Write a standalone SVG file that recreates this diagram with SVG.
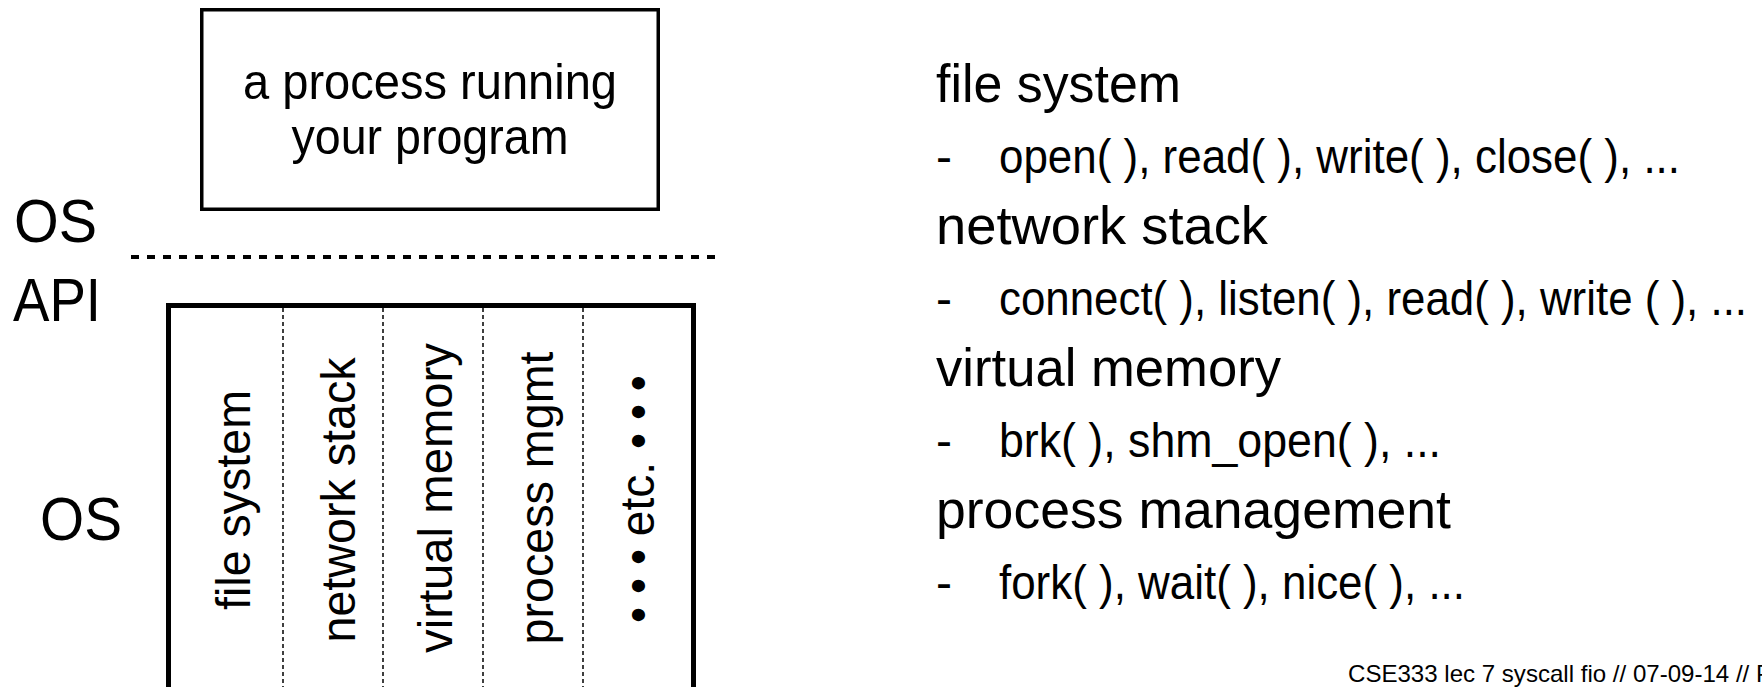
<svg xmlns="http://www.w3.org/2000/svg" width="1762" height="687" viewBox="0 0 1762 687">
  <style>
    .bg { fill: #ffffff; }
    .t { font-family: "Liberation Sans", Arial, Helvetica, sans-serif; fill: #000000; }
    .box { fill: #ffffff; stroke: #000000; }
    .div { stroke: #000000; stroke-width: 1.5; stroke-dasharray: 4 3; fill: none; }
    .api { stroke: #000000; stroke-width: 4; stroke-dasharray: 8 8; fill: none; }
    .head { font-size: 54px; }
    .item { font-size: 48px; }
    .lbl { font-size: 62px; }
    .vt { font-size: 48px; }
  </style>
  <rect class="bg" x="0" y="0" width="1762" height="687"/>

  <g id="process-box">
    <rect class="box" x="201.75" y="9.75" width="456.5" height="199.5" stroke-width="3.5"/>
    <text class="t" x="430" y="99" font-size="50" text-anchor="middle" textLength="374" lengthAdjust="spacingAndGlyphs">a process running</text>
    <text class="t" x="430" y="154" font-size="50" text-anchor="middle" textLength="277" lengthAdjust="spacingAndGlyphs">your program</text>
  </g>

  <g id="os-api-label">
    <text class="t lbl" x="14" y="242" textLength="83" lengthAdjust="spacingAndGlyphs">OS</text>
    <text class="t lbl" x="13" y="321" textLength="88" lengthAdjust="spacingAndGlyphs">API</text>
  </g>

  <g id="api-boundary">
    <line class="api" x1="131" y1="257" x2="722" y2="257"/>
  </g>

  <g id="os-label">
    <text class="t lbl" x="40" y="540" textLength="82" lengthAdjust="spacingAndGlyphs">OS</text>
  </g>

  <g id="os-box">
    <rect class="box" x="168.5" y="305.5" width="525" height="420" stroke-width="5"/>
    <line class="div" x1="283" y1="308" x2="283" y2="687"/>
    <line class="div" x1="383" y1="308" x2="383" y2="687"/>
    <line class="div" x1="483" y1="308" x2="483" y2="687"/>
    <line class="div" x1="583" y1="308" x2="583" y2="687"/>
  </g>

  <g id="col-file-system">
    <text class="t vt" transform="translate(250,500) rotate(-90)" x="0" y="0" text-anchor="middle" textLength="220" lengthAdjust="spacingAndGlyphs">file system</text>
  </g>
  <g id="col-network-stack">
    <text class="t vt" transform="translate(355,500) rotate(-90)" x="0" y="0" text-anchor="middle" textLength="285" lengthAdjust="spacingAndGlyphs">network stack</text>
  </g>
  <g id="col-virtual-memory">
    <text class="t vt" transform="translate(452,498) rotate(-90)" x="0" y="0" text-anchor="middle" textLength="310" lengthAdjust="spacingAndGlyphs">virtual memory</text>
  </g>
  <g id="col-process-mgmt">
    <text class="t vt" transform="translate(553,498) rotate(-90)" x="0" y="0" text-anchor="middle" textLength="293" lengthAdjust="spacingAndGlyphs">process mgmt</text>
  </g>
  <g id="col-etc">
    <text class="t vt" transform="translate(654,499) rotate(-90)" x="0" y="0" text-anchor="middle" textLength="248" lengthAdjust="spacingAndGlyphs">• • • etc. • • •</text>
  </g>

  <g id="syscall-list">
    <text class="t head" x="936" y="102" textLength="245" lengthAdjust="spacingAndGlyphs">file system</text>
    <text class="t item" x="936" y="173">-</text>
    <text class="t item" x="999" y="173" textLength="681" lengthAdjust="spacingAndGlyphs">open( ), read( ), write( ), close( ), ...</text>
    <text class="t head" x="936" y="244" textLength="332" lengthAdjust="spacingAndGlyphs">network stack</text>
    <text class="t item" x="936" y="315">-</text>
    <text class="t item" x="999" y="315" textLength="748" lengthAdjust="spacingAndGlyphs">connect( ), listen( ), read( ), write ( ), ...</text>
    <text class="t head" x="936" y="386" textLength="345" lengthAdjust="spacingAndGlyphs">virtual memory</text>
    <text class="t item" x="936" y="457">-</text>
    <text class="t item" x="999" y="457" textLength="442" lengthAdjust="spacingAndGlyphs">brk( ), shm_open( ), ...</text>
    <text class="t head" x="936" y="528" textLength="515" lengthAdjust="spacingAndGlyphs">process management</text>
    <text class="t item" x="936" y="599">-</text>
    <text class="t item" x="999" y="599" textLength="466" lengthAdjust="spacingAndGlyphs">fork( ), wait( ), nice( ), ...</text>
  </g>

  <g id="footer">
    <text class="t" x="1348" y="682" font-size="24" textLength="424" lengthAdjust="spacingAndGlyphs">CSE333 lec 7 syscall fio // 07-09-14 // P</text>
  </g>
</svg>
